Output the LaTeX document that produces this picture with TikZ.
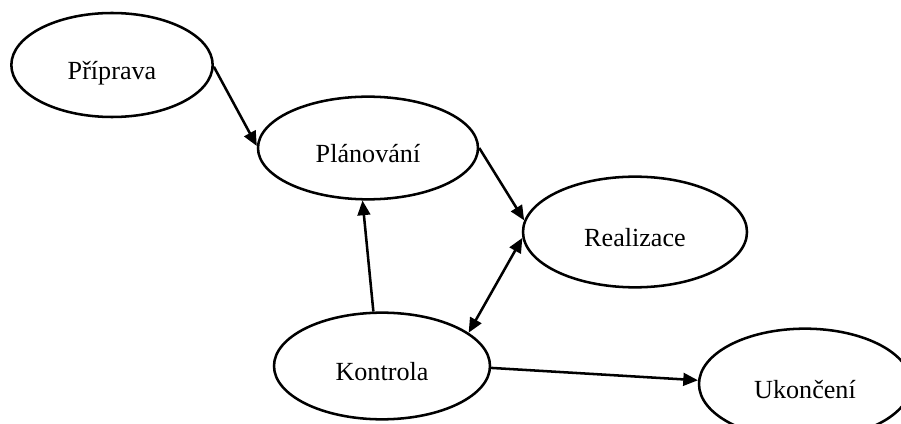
\documentclass[tikz,border=0pt]{standalone}
\usepackage{fontspec}
\setmainfont{Liberation Serif}
\usetikzlibrary{arrows.meta,shapes.geometric}
\begin{document}
\begin{tikzpicture}[x=0.75pt,y=-0.75pt,
  phase/.style={draw, ellipse, line width=1.9pt, inner sep=0pt,
    font=\fontsize{19.6pt}{22pt}\selectfont, text height=22pt, text depth=0pt},
  flow/.style={line width=1.9pt, -{Triangle[length=11pt,width=9.5pt]}},
  both/.style={line width=1.9pt, {Triangle[length=11pt,width=9.5pt]}-{Triangle[length=11pt,width=9.5pt]}}]
  \useasboundingbox (0,0) rectangle (901,424);
  \clip (0,0) rectangle (901,424);
  % process phases
  \node[phase, minimum width=151pt, minimum height=78pt] (pri) at (112,65) {Příprava};
  \node[phase, minimum width=165pt, minimum height=77pt] (pla) at (368,148) {Plánování};
  \node[phase, minimum width=168pt, minimum height=83pt] (rea) at (635,232) {Realizace};
  \node[phase, minimum width=162pt, minimum height=80pt] (kon) at (382,366) {Kontrola};
  \node[phase, minimum width=159pt, minimum height=83pt] (uko) at (805,384) {Ukončení};
  % transitions
  \draw[flow] (pri.-1) -- (pla.179);
  \draw[flow] (pla.0) -- (rea.174);
  \draw[flow] (kon.99.5) -- (pla.264.4);
  \draw[both] (rea.183) -- (kon.21);
  \draw[flow] (kon.-1.6) -- (uko.178.4);
\end{tikzpicture}
\end{document}
